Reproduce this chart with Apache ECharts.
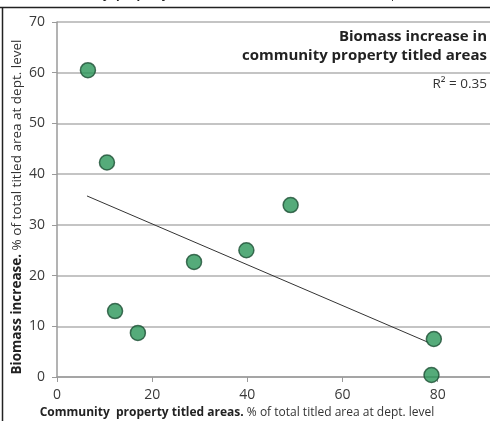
<!DOCTYPE html>
<html>
<head>
<meta charset="utf-8">
<script src="https://cdn.jsdelivr.net/npm/echarts@6/dist/echarts.min.js"></script>
<style>
html,body{margin:0;padding:0;background:#fff;}
#c{width:490px;height:421px;}
</style>
</head>
<body>
<div id="c"></div>
<script>
// Data
var titledShare = [6.5, 10.5, 12.2, 17.0, 28.8, 39.8, 49.1, 79.2, 78.7];
var biomassIncrease = [60.5, 42.3, 13.0, 8.7, 22.7, 25.0, 33.9, 7.5, 0.4];
var trendX = [6.3, 78.1];
var trendY = [35.7, 6.8];
var xTicks = [0, 20, 40, 60, 80];
var yTicks = [0, 10, 20, 30, 40, 50, 60, 70];
var titleLines = ['Biomass increase in', 'community property titled areas'];
var r2Text = 'R\u00b2 = 0.35';
var xName = ['Community  property titled areas.', ' % of total titled area at dept. level'];
var yName = ['Biomass increase.', ' % of total titled area at dept. level'];

var points = titledShare.map(function (x, i) { return [x, biomassIncrease[i]]; });
var trend = trendX.map(function (x, i) { return [x, trendY[i]]; });

var FONT = '"Open Sans", "Noto Sans", sans-serif';
function richName(size) {
  return {
    b: {fontWeight: 'bold', fontSize: size, fill: '#222', fontFamily: FONT},
    n: {fontSize: size, fill: '#333', fontFamily: FONT}
  };
}
var chart = echarts.init(document.getElementById('c'), null, {renderer: 'canvas'});
chart.setOption({
  animation: false,
  grid: {left: 57, right: 0, top: 22, bottom: 44, containLabel: false},
  xAxis: {
    type: 'value', min: 0, max: 91, interval: 20,
    axisLine: {show: true, lineStyle: {color: '#9a9a9a', width: 1.5}},
    axisTick: {show: true, length: 5, lineStyle: {color: '#9a9a9a'}},
    splitLine: {show: false},
    axisLabel: {
      color: '#3a3a3a', fontFamily: FONT, fontSize: 14, margin: 11,
      showMaxLabel: false,
      formatter: function (v) { return xTicks.indexOf(v) >= 0 ? String(v) : ''; }
    }
  },
  yAxis: {
    type: 'value', min: 0, max: 70, interval: 10,
    axisLine: {show: true, lineStyle: {color: '#9a9a9a', width: 1.5}},
    axisTick: {show: true, length: 5, lineStyle: {color: '#9a9a9a'}},
    splitLine: {show: true, lineStyle: {color: '#b0b0b0', width: 1.5}},
    axisLabel: {
      color: '#3a3a3a', fontFamily: FONT, fontSize: 14, margin: 12,
      formatter: function (v) { return yTicks.indexOf(v) >= 0 ? String(v) : ''; }
    }
  },
  series: [
    {
      type: 'line', data: trend, symbol: 'none', silent: true,
      lineStyle: {color: '#333', width: 1}, z: 2
    },
    {
      type: 'scatter', data: points, symbolSize: 15, z: 3,
      itemStyle: {color: '#2b9659', borderColor: '#1d4f35', borderWidth: 1.5}
    }
  ],
  graphic: [
    {type: 'line', shape: {x1: 0, y1: 7.5, x2: 490, y2: 7.5}, style: {stroke: '#222', lineWidth: 1.5}, z: 10},
    {type: 'line', shape: {x1: 2.5, y1: 7.5, x2: 2.5, y2: 421}, style: {stroke: '#222', lineWidth: 1.5}, z: 10},
    {type: 'rect', shape: {x: 0, y: 7, width: 490, height: 4}, style: {fill: '#fff'}, z: 9},
    {
      type: 'text', x: 237, y: -11, z: 8,
      style: {
        text: '{b|' + xName[0] + '}{n|' + xName[1] + '}',
        align: 'center', verticalAlign: 'top', rich: richName(12)
      }
    },
    {
      type: 'text', x: 237, y: 413, z: 10,
      style: {
        text: '{b|' + xName[0] + '}{n|' + xName[1] + '}',
        align: 'center', verticalAlign: 'middle', rich: richName(12)
      }
    },
    {
      type: 'text', x: 17, y: 207, rotation: Math.PI / 2, z: 10,
      style: {
        text: '{b|' + yName[0] + '}{n|' + yName[1] + '}',
        align: 'center', verticalAlign: 'middle', rich: richName(13.5)
      }
    },
    {
      type: 'text', x: 487, y: 44, z: 10,
      style: {
        text: titleLines[0], fontFamily: FONT, fontWeight: 'bold', fontSize: 15,
        fill: '#222', align: 'right', verticalAlign: 'bottom'
      }
    },
    {
      type: 'text', x: 487, y: 63, z: 10,
      style: {
        text: titleLines[1], fontFamily: FONT, fontWeight: 'bold', fontSize: 15,
        fill: '#222', align: 'right', verticalAlign: 'bottom'
      }
    },
    {
      type: 'text', x: 487, y: 84, z: 10,
      style: {text: r2Text, fontFamily: FONT, fontSize: 13.5, fill: '#333', align: 'right', verticalAlign: 'middle'}
    }
  ]
});
</script>
</body>
</html>
